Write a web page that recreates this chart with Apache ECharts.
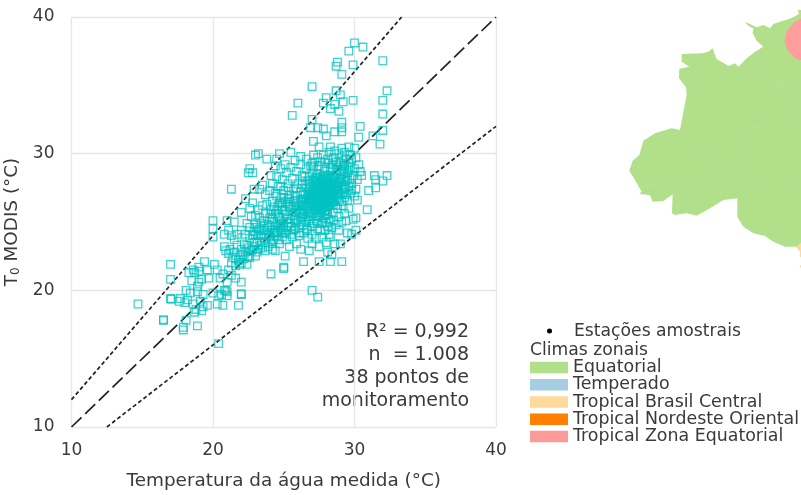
<!DOCTYPE html>
<html><head><meta charset="utf-8">
<style>html,body{margin:0;padding:0;background:#fff}#c{width:801px;height:495px}</style>
<script src="https://cdn.jsdelivr.net/npm/echarts@6/dist/echarts.min.js"></script>
</head><body><div id="c"></div>
<script>
const outliers=[[30,38.1],[30.6,37.8],[29.6,37.5],[32,36.8],[28.8,36.7],[28.7,36.4],[29.9,36.5],[29.1,35.8],[27,34.9],[32.3,34.6],[28.7,34.6],[29,34.3],[28,34.1],[26,33.7],[27.8,33.7],[29.9,33.9],[32,33.9],[29.2,33.8],[28.6,33.6],[28.3,33.3],[28.9,33.1],[25.6,32.8],[32,32.9],[27,32.5],[29.1,32.3],[30.4,32],[26.9,31.9],[27.4,31.9],[27.8,31.8],[29.1,31.9],[28.6,31.6],[29.1,31.6],[32,31.7],[28,31.3],[30.3,31.2],[31.3,31.3],[27.1,30.9],[31.8,30.7],[27.5,30.5],[28.3,30.5],[29.1,30.4],[29.6,30.5],[30,30.4],[23,29.9],[23.2,30],[23.8,29.6],[24.7,30],[25.5,30.1],[26.2,29.8],[24.5,29.6],[27.1,29.9],[30.5,28.4],[31.4,28.4],[32.3,28.4],[31.5,28.1],[32,28],[31,27.3],[31.5,27.5],[30.2,26.6],[30.9,25.9],[30.1,25.3],[29.9,25.2],[21.3,27.4],[22.6,28.9],[22.8,28.6],[22.5,28.6],[22.3,26.7],[22.9,27.4],[23.3,27.4],[20,25.1],[20,24.5],[20,23.9],[21,25.1],[22,25.7],[21.5,25],[14.7,19],[16.5,17.8],[16.5,17.85],[17,21.9],[17,20.8],[17,19.4],[17.05,19.35],[17.6,19.2],[18.1,17.8],[17.9,17.1],[17.9,17.3],[18.9,17.4],[20.4,16.1],[20.7,18.9],[21.8,18.9],[24.1,21.2],[25,21.6],[25,21.7],[25.1,22.5],[26.4,22.1],[27,20],[27.4,19.5],[27.5,22.1],[28.3,22.1],[28.4,22.6],[29.1,22.1],[28.1,22.8],[29,23.4],[29.5,24.2],[29.8,24.1],[30.1,24.4]];
const coolStations=[[18.2,19.3],[18.4,19.8],[18.6,19],[18.8,18.6],[18.9,19.9],[19.1,19.2],[19.2,18.5],[19.3,19.7],[19.6,18.9],[20,19.8],[20.3,19],[18.5,20.7],[18.3,21.3],[18.6,21.5],[18.9,20.3],[19.2,20.8],[19.7,20.9],[20.5,20.9],[20.7,21.2],[20.8,20],[20.4,19.6],[18,19.1],[18.1,20],[18.7,18.4],[19.3,18.8],[17.7,19.4],[19,20.6],[19.4,22.1],[18.7,21.3],[19,21.7],[19,21.4],[19.6,21.5],[20.1,21.9],[20.3,21.5],[22,19.7],[22,19.75],[21,19.9],[20.9,20],[21,19.6],[20.6,19.7],[22,20.6],[21.6,20.9],[21,20.6],[21.3,21.1],[21.1,21.5],[21.6,21.8],[21.9,21.9],[21.4,22.4],[21.1,22.7],[20.9,22.9],[20.8,23.2],[21.2,23],[21.5,22.8],[21.8,22.2],[22,22],[22.2,22.3],[22.4,21.9],[22.6,22.4],[22.3,22.8],[22,23],[21.7,23.3],[22.2,23.4],[22.5,23.1],[22.8,23],[23,22.5],[23.2,23],[22.9,23.5],[22.6,23.8],[22.3,24.1],[22,24.4],[21.7,24.1],[21.3,24],[21.1,24.4],[20.8,24.1],[21.5,23.7],[23.1,23.5],[23.4,23.3],[23.6,23.8],[23.2,24],[22.9,24.3],[22.6,24.6],[22.4,24.9],[23,24.8],[23.3,24.5],[23.6,24.4],[23.9,24.1],[24.1,23.6],[24.2,23],[23.7,22.9],[24.4,22.9],[24.7,23.4],[24.5,24],[24.2,24.4],[23.9,24.8],[23.6,25.1],[23.3,25.3],[23,25.5],[22.7,25.4],[23.2,25.9],[23.5,26.2],[22.6,26],[22.8,26.4],[23.7,25.6],[24,25.3],[24.3,25],[24.6,24.7],[24.9,24.2]];
const bandStations=[[22.1,22.6],[22.4,23.3],[22.7,22.9],[22.9,23.2],[23.1,22.8],[23.3,23.6],[23.5,23.1],[23.7,23.5],[23.9,23.2],[24,23.9],[24.2,23.4],[24.4,24.2],[24.6,23.7],[24.8,24.4],[23,24.1],[23.2,24.4],[23.4,24],[23.6,24.7],[23.8,24.4],[24,24.6],[24.2,25.2],[24.4,24.7],[24.6,25.4],[24.8,25.1],[25,24.7],[25.2,25.2],[25.4,24.9],[25.6,25.5],[25.8,25.2],[24.1,25.6],[24.3,26.1],[24.5,25.8],[24.7,26.4],[24.9,26.1],[25.1,25.8],[25.3,26.3],[25.5,25.9],[25.7,26.5],[25.9,26.1],[26.1,25.7],[26.3,26.2],[25,26.8],[25.4,26.7],[25.8,26.9],[26.2,26.6],[26.4,27],[24.8,27.6],[25.3,27.5],[25.9,27.5],[26.3,27.7],[24,24],[24.3,23.7],[24.6,24.3],[24.9,23.9],[25.2,24.4],[25.5,24.1],[25.8,24.5],[26.1,24.2],[26.4,24.8],[26.7,24.4],[26.2,25],[26.5,25.2],[26.8,25.1],[27.1,24.9],[27.4,24.9],[27.7,25],[28,24.9],[28.3,25],[22.5,22.5],[21.9,22.6],[21.6,22.3],[21.3,22],[22.8,24],[23.1,24.6],[23.4,24.9]];
const midStations=[[25.2,23.7],[25.4,23.2],[25.6,23.9],[25.9,23.4],[26.1,24],[25.7,24.4],[25.3,24.6],[25,25],[24.7,25.3],[24.4,25.6],[24.1,25.9],[23.8,26.3],[24.2,26.5],[24.6,26.2],[24.9,25.9],[25.2,25.6],[25.5,25.2],[25.8,24.9],[26.1,24.6],[26.4,24.2],[26.7,23.8],[27,23.4],[27.3,23.8],[26.8,22.9],[26.2,23],[27.5,23.2],[27.7,23.9],[28,23.5],[28.3,23.9],[28.6,23.4],[28.9,24.4],[28.7,24.8],[27.9,24.4],[27.4,24.5],[27,24.7],[26.6,25],[26.2,25.3],[25.8,25.7],[25.4,26.1],[25.1,26.5],[24.8,26.8],[24.4,27.1],[24,27.3],[23.7,27],[23.5,27.7],[24.2,27.8],[24.6,27.6],[25,27.3],[25.4,27],[25.8,26.6],[26.1,26.2],[26.5,25.8],[26.9,25.4],[27.3,25.1],[27.7,24.9],[28.1,24.7],[28.5,25.1],[28.9,25.4],[29.3,25.6],[29.6,26],[29.5,26.6],[29.2,26.2],[28.8,26],[24.1,28.4],[24.5,28.3],[24.9,28.1],[25.3,27.8],[25.7,27.4],[26,27.8],[25.6,28.2],[25.2,28.6],[24.8,28.9],[24.4,29.1],[25.1,29.2],[25.5,29],[25.9,28.7],[26.3,28.4],[26.6,28.9],[26.2,29.2],[25.8,29.5],[26.6,29.6],[27,29.3],[27.4,29.7],[27.8,29.9],[28.2,30.1],[28.6,30.2],[28.9,30],[29.3,30.1],[29.7,29.9],[30.1,29.7],[30.3,29.2],[30,28.9],[30.4,28.7],[29.9,28.4],[30.2,28.1],[29.8,27.8],[30.1,27.4],[29.7,27.1],[30,26.9],[29.4,27],[24.8,24.6],[25.1,24.2],[25.5,24.7],[25.9,25.1],[26.3,25.6],[26.7,26],[26.4,26.5],[25.7,26.2],[25.3,26.7],[24.9,26.4],[24.5,26.9],[24.3,24.2],[24.7,24.9],[26.6,24.5],[27,24.1],[27.6,24.4],[28.2,24.1],[28.4,24.6],[29.1,25],[29.4,25.1]];
const warmCore=[[26.7,26.7],[26.9,26.2],[27.1,26.5],[27.3,26.1],[27.5,26.4],[27.7,26],[27.9,26.3],[28.1,25.9],[28.3,26.2],[28.5,25.7],[26.8,27.4],[27,27],[27.2,27.3],[27.4,26.9],[27.6,27.2],[27.8,26.8],[28,27.1],[28.2,26.7],[28.4,27],[28.6,26.6],[28.8,26.9],[26.7,28],[26.9,27.6],[27.1,27.9],[27.3,27.5],[27.5,27.8],[27.7,27.4],[27.9,27.7],[28.1,27.3],[28.3,27.6],[28.5,27.2],[28.7,27.5],[28.9,27.1],[29.1,27.4],[26.8,28.3],[27,28.6],[27.2,28.2],[27.4,28.5],[27.6,28.1],[27.8,28.4],[28,28],[28.2,28.3],[28.4,27.9],[28.6,28.2],[28.8,27.8],[29,28.1],[29.2,27.7],[29.4,28],[27.1,29],[27.5,29.1],[27.9,29],[28.3,28.9],[28.7,28.8],[29.1,28.7],[29.3,28.3],[29.5,28.6],[26.4,25.6],[26.8,25.7],[27.2,25.8],[27.4,25.4],[27.6,25.7],[27.8,25.3],[28,25.6],[28.2,25.2],[26.2,27.2],[26.3,26.7],[26.3,28],[26.5,28.3],[27.2,26.7],[27.4,27.1],[27.6,26.6],[27.8,27],[28,26.5],[28.2,26.9],[28.4,26.4],[27,26.8],[27.3,27.2],[27.5,27.5],[27.7,27.1],[27.9,27.4],[28.1,27],[28.3,27.3],[28.5,26.9],[27.2,28],[27.4,27.7],[27.6,27.9],[27.8,27.6],[28,27.8],[28.2,27.5],[28.4,27.7],[28.6,27.4],[27.3,28.3],[27.7,28],[27.9,28.3],[28.1,27.9],[28.3,28.2],[28.5,27.8],[28.7,28],[27,27.3],[26.9,26.9],[27.3,26.4],[27.6,26.3],[27.9,26.1],[28.2,26.4],[27.1,26.2],[27.5,25.9],[28.1,25.6],[26.6,27.5],[26.8,27.8],[27,28.1],[27.3,27.8],[28.9,27.6],[29.1,27.9],[29.3,27.4],[29.2,28.5],[29,28.8],[28.8,29],[28.5,29.2],[28.2,29.3],[27.9,29.4],[27.6,29.4],[28.7,29.4],[29,29.3],[29.3,29.1],[29.6,29.3],[29.8,29.6],[29.4,29.6],[29.1,29.7],[28.5,29.7],[28.1,29.6],[27.2,29.4],[26.9,29.1]];
const warmFill=[[27.9,25.8],[28.1,26.1],[28.5,26.3],[28.7,26.2],[28.9,26.6],[29.1,26.5],[29.3,26.8],[27.7,26.5],[27.9,26.6],[28.1,26.4],[28.3,26.6],[28.5,26.5],[29,27],[29.2,27.2],[29.4,27.5],[29.6,27.6],[29.8,27.3],[27.5,27.1],[27.7,26.9],[27.9,26.9],[28.1,26.6],[28.3,26.8],[28.5,26.7],[27.4,27.4],[27.6,27.4],[27.8,27.3],[28,27.4],[28.2,27.2],[28.4,27.2],[28.6,27.1],[28.8,27.3],[27.4,28.2],[27.6,28.3],[27.8,28.1],[28,28.2],[28.2,28],[28.4,28.1],[28.6,27.9],[28.8,27.6],[27.9,28.7],[28.1,28.4],[28.5,28.3],[28.9,28.1],[29.1,28.2],[29.3,28.9],[29.5,28.1],[29.6,28.8],[29.8,28.2],[29.7,29],[28.4,29],[29.2,29.2],[28.9,29.4],[26.7,25.4],[26.9,25.8],[27.1,25.6],[27.3,25.9],[27.5,25.5],[27.7,25.8],[27.9,25.5],[26.6,26.1],[26.8,26.4],[27,26.4],[27.2,26.1],[27.4,26.3],[27.6,26.1],[27.8,26.2],[28,26.2],[26.4,26.3],[26.6,26.6],[26.8,26.9],[27,26.6],[27.2,26.9],[27.4,26.6],[27.6,26.8],[27.8,26.5],[26.5,27],[26.7,27.2],[26.9,27.1],[27.1,27.1],[26,26.4],[26.2,25.9],[25.9,25.9],[26.3,25.4]];
const lineX=[10,40];const equalityY=[10,40];
const upperX=[10,33.33];const upperY=[12,40];
const lowerX=[12.5,40];const lowerY=[10,32];
const climates=['Equatorial','Temperado','Tropical Brasil Central','Tropical Nordeste Oriental','Tropical Zona Equatorial'];
const climateColors=['#b2df8a','#a6cee3','#fdd99b','#ff7f00','#fb9a99'];
const note=['R² = 0,992','n  = 1.008','38 pontos de','monitoramento'];
const equatorialShape=[[603,30],[593,30],[597,42],[580,52],[565,58],[540,65],[520,72],[510,85],[490,75],[470,82],[450,72],[435,65],[445,78],[460,85],[458,100],[470,122],[490,140],[465,155],[440,175],[415,200],[405,190],[385,198],[370,188],[350,178],[338,145],[325,155],[307,160],[245,162],[245,185],[268,200],[238,206],[237,235],[258,262],[260,285],[240,390],[215,385],[165,400],[130,422],[118,465],[98,482],[88,512],[105,540],[125,575],[118,582],[150,585],[158,605],[190,603],[218,583],[216,640],[225,645],[260,640],[290,647],[330,625],[370,600],[412,595],[412,650],[430,680],[460,700],[495,708],[520,725],[555,740],[590,740],[603,730]];
const zonaShape=[[603,55],[580,70],[560,95],[553,125],[565,155],[585,175],[603,181]];
const centralShape=[[603,730],[588,742],[600,755],[600,770],[603,772]];
const centralShape2=[[598,798],[603,795],[603,805]];
const contours=[[[118,473],[200,473],[270,458],[340,435],[410,395],[480,375],[540,368],[565,345],[570,305],[545,262],[490,235],[415,203]],[[110,548],[170,556],[260,545],[340,515],[400,488],[460,467],[575,468],[603,455]],[[218,622],[300,580],[400,535],[460,520],[490,530],[550,570],[603,592]],[[460,170],[500,215],[560,270],[603,315]],[[480,82],[510,130],[550,180],[603,235]]];
const toGeo=p=>[p[0],-p[1]];
const ring=s=>{const r=s.map(toGeo);r.push(r[0]);return [r];};
const feature=(name,rings)=>({type:'Feature',properties:{name},geometry:{type:'MultiPolygon',coordinates:rings.map(r=>ring(r))}});
echarts.registerMap('amazonia',{type:'FeatureCollection',features:[feature('Equatorial',[equatorialShape]),feature('Tropical Zona Equatorial',[zonaShape]),feature('Tropical Brasil Central',[centralShape,centralShape2])]});
const FONT='DejaVu Sans';const INK='#3a3a3a';const GRID='#e6e6e6';
const chart=echarts.init(document.getElementById('c'),null,{renderer:'canvas'});
const linePts=(xs,ys)=>xs.map((x,i)=>[x,ys[i]]);
const guide=(name,xs,ys,dash)=>({name,type:'line',data:linePts(xs,ys),showSymbol:false,symbol:'none',silent:true,z:1,lineStyle:{color:'#222',width:1.7,type:dash}});
const axisBase={min:10,max:40,interval:10,axisLine:{show:false},axisTick:{show:false},splitLine:{show:true,lineStyle:{color:GRID,width:1.3}},axisLabel:{color:INK,fontFamily:FONT,fontSize:17}};
chart.setOption({animation:false,textStyle:{fontFamily:FONT},
 grid:{left:71.5,top:17,width:424.5,height:410,outerBoundsMode:'none',containLabel:false},
 xAxis:{...axisBase,type:'value',name:'Temperatura da água medida (°C)',nameLocation:'middle',nameGap:45,nameTextStyle:{color:INK,fontFamily:FONT,fontSize:18.4},axisLabel:{...axisBase.axisLabel,margin:15}},
 yAxis:{...axisBase,type:'value',name:'T{s|0} MODIS (°C)',nameLocation:'middle',nameGap:46,nameTextStyle:{color:INK,fontFamily:FONT,fontSize:18.4,rich:{s:{fontSize:12,verticalAlign:'bottom',color:INK,fontFamily:FONT,padding:[7,0,0,0]}}},axisLabel:{...axisBase.axisLabel,margin:17,padding:[7,0,0,0]}},
 geo:{map:'amazonia',silent:true,roam:false,aspectScale:1,left:629.3,top:10,width:171.7,height:258.3,label:{show:false},itemStyle:{areaColor:'#b2df8a',borderWidth:0},
  regions:[{name:'Equatorial',itemStyle:{areaColor:climateColors[0]}},{name:'Tropical Zona Equatorial',itemStyle:{areaColor:'#ff9c9c'}},{name:'Tropical Brasil Central',itemStyle:{areaColor:climateColors[2]}}]},
 legend:{orient:'vertical',left:530,top:359,padding:0,itemWidth:38,itemHeight:11.5,itemGap:0,selectedMode:false,icon:'rect',data:climates,textStyle:{color:INK,fontFamily:FONT,fontSize:17.4,lineHeight:17.2},itemStyle:{borderWidth:0,opacity:1}},
 series:[
  guide('upper',upperX,upperY,[4,2.6]),
  guide('equality',lineX,equalityY,[14,5]),
  guide('lower',lowerX,lowerY,[4,2.6]),
  {name:'Estações',type:'scatter',symbol:'rect',symbolSize:7.6,z:3,data:[...coolStations,...bandStations,...midStations,...warmCore,...warmFill,...outliers],itemStyle:{color:'rgba(0,0,0,0)',borderColor:'#00c2c2',borderWidth:1.3,opacity:0.75}},
  ...climates.map((c,i)=>({name:c,type:'scatter',coordinateSystem:'geo',geoIndex:0,data:[],itemStyle:{color:climateColors[i],opacity:1}})),
  {name:'contornos',type:'lines',coordinateSystem:'geo',polyline:true,silent:true,data:contours.map(c=>({coords:c.map(toGeo)})),lineStyle:{color:'rgba(255,255,255,0.25)',width:0.6}}
 ],
 graphic:[
  ...note.map((t,i)=>({type:'text',right:332,top:323+i*22.7,style:{text:t,fill:INK,font:'19px '+FONT,textAlign:'right'}})),
  {type:'circle',shape:{cx:549.5,cy:331,r:2.5},style:{fill:'#000'}},
  {type:'text',left:574,top:323.5,style:{text:'Estações amostrais',fill:INK,font:'17.2px '+FONT}},
  {type:'text',left:530,top:342.5,style:{text:'Climas zonais',fill:INK,font:'17.2px '+FONT}}
 ]
});
</script></body></html>
